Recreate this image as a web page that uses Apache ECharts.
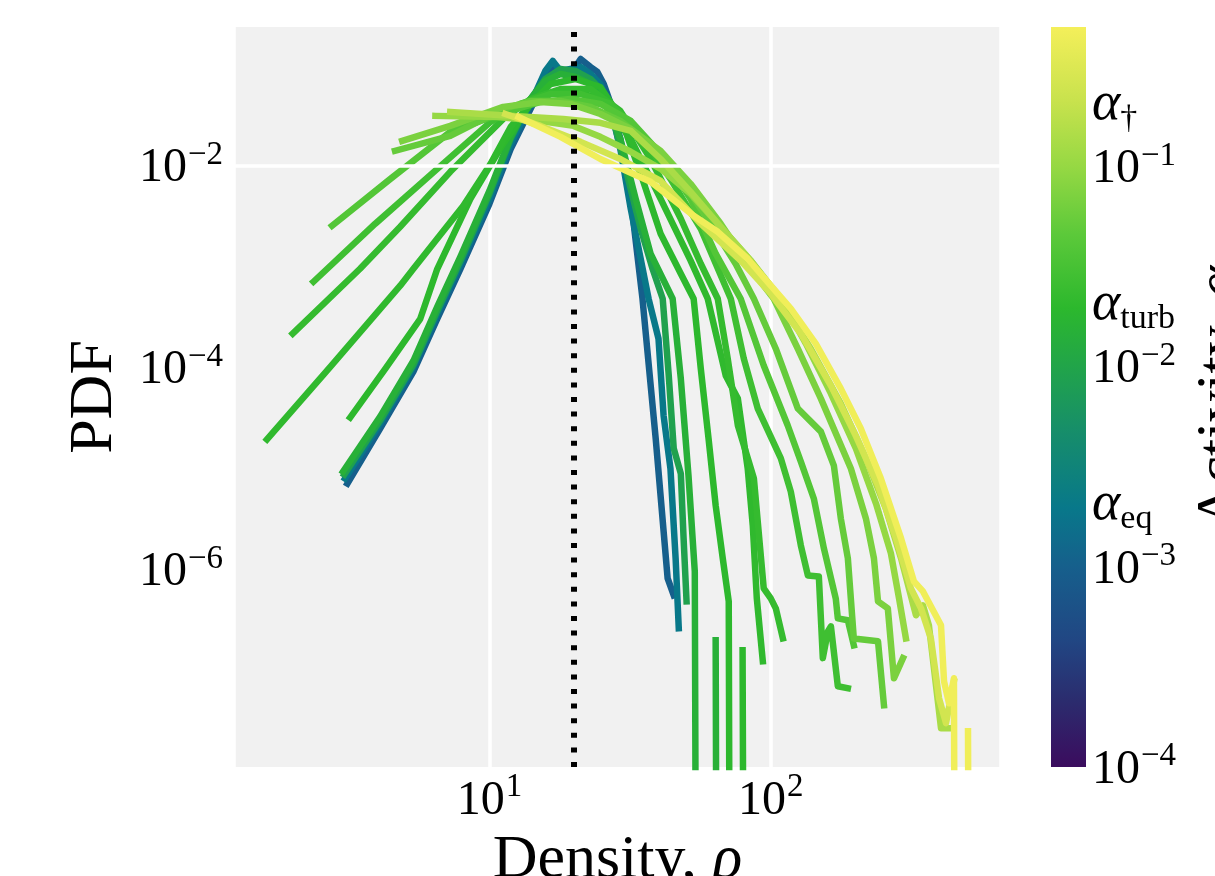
<!DOCTYPE html>
<html><head><meta charset="utf-8">
<script src="https://cdn.jsdelivr.net/npm/echarts@6/dist/echarts.min.js"></script>
<style>html,body{margin:0;padding:0;background:#fff}#chart{width:1215px;height:876px}</style>
</head><body><div id="chart"></div>
<script>
// ---------------- data ----------------
const densityRange = [1.237, 658];
const pdfRange = [1.1e-8, 0.238];
const alphaRange = [1e-4, 0.5];
const pdfGridValues = [1e-2, 1e-4, 1e-6];
const referenceDensity = 20;
const alphaMarks = [
  {label: 'eq', value: 0.002},
  {label: 'turb', value: 0.02},
  {label: '\u2020', value: 0.2}
];
const activities = [0.001, 0.002, 0.009, 0.015, 0.02, 0.021, 0.023, 0.0275, 0.039, 0.052, 0.07, 0.099, 0.136, 0.26, 0.46];

const curve01 = [[3.13,7.10e-6],[4.09,2.49e-5],[5.37,9.12e-5],[6.53,3.05e-4],[7.89,9.55e-4],[10.0,4.20e-3],[11.9,0.0147],[14.0,0.0366],[15.8,0.0726],[17.2,0.0955],[18.6,0.0814],[20.2,0.0955],[21.1,0.1146],[22.9,0.0955],[24.2,0.0853],[25.5,0.0648],[27.0,0.0411],[29.2,0.0185],[31.8,0.00471],[35.0,4.82e-4],[39.0,1.98e-5],[43.0,8.15e-7],[45.2,5.53e-7]];
const curve02 = [[3.07,7.96e-6],[4.09,2.79e-5],[5.37,1.02e-4],[6.53,3.43e-4],[7.89,1.07e-3],[10.0,4.71e-3],[11.9,0.0165],[14.0,0.0411],[15.8,0.0872],[16.8,0.1096],[17.9,0.0872],[19.4,0.0912],[21.1,0.0955],[22.9,0.0814],[24.8,0.0648],[27.0,0.0366],[29.2,0.0147],[31.8,0.00375],[36.8,4.82e-4],[39.9,1.94e-4],[41.6,3.35e-5],[44.0,1.0e-5],[45.9,1.29e-6],[47.1,2.61e-7]];
const curve03 = [[3.05,8.72e-6],[4.09,2.99e-5],[5.37,1.07e-4],[6.53,3.66e-4],[7.89,1.15e-3],[10.0,5.28e-3],[11.9,0.0185],[14.0,0.0460],[15.8,0.0726],[17.9,0.0912],[20.2,0.0872],[22.9,0.0726],[24.8,0.0578],[27.0,0.0366],[30.5,9.34e-3],[34.5,2.38e-3],[38.0,9.55e-4],[41.3,4.82e-4],[43.4,8.33e-5],[45.2,1.58e-5],[47.9,8.91e-6],[49.0,2.03e-6],[50.2,4.82e-7]];
const curve04 = [[3.02,9.33e-6],[4.09,3.27e-5],[5.37,1.17e-4],[6.53,4.02e-4],[7.89,1.26e-3],[10.0,5.65e-3],[11.9,0.0194],[14.0,0.0460],[15.8,0.0695],[17.9,0.0814],[20.2,0.0760],[22.9,0.0648],[25.9,0.0460],[29.2,0.0185],[33.1,4.71e-3],[37.4,1.35e-3],[44.8,4.82e-4],[47.9,7.78e-5],[51.0,8.52e-6],[53.7,9.55e-7],[57.3,1e-30],[61.0,'-'],[63.7,1.98e-7],[67.5,1e-30]];
const curve05 = [[3.20,3.20e-5],[4.27,9.77e-5],[5.68,3.05e-4],[6.53,9.55e-4],[8.56,4.71e-3],[10.9,0.0147],[14.0,0.0411],[16.5,0.0648],[20.2,0.0726],[24.8,0.0605],[29.2,0.0305],[34.5,8.34e-3],[40.6,2.12e-3],[47.9,8.53e-4],[53.2,4.82e-4],[56.4,9.77e-5],[60.1,1.98e-5],[63.7,4.31e-6],[67.5,1.29e-6],[70.9,4.82e-7],[75.0,1e-30],[77.0,'-'],[79.4,1.58e-7],[84.9,1e-30]];
const curve06 = [[1.62,1.94e-5],[2.72,1.02e-4],[4.82,6.49e-4],[5.37,9.55e-4],[8.08,4.02e-3],[10.1,0.0105],[11.9,0.0243],[14.0,0.0411],[16.5,0.0516],[20.2,0.0553],[24.8,0.0460],[31.8,0.0185],[40.6,4.71e-3],[51.9,1.15e-3],[59.7,4.82e-4],[69.2,8.33e-5],[76.4,4.93e-5],[82.8,1.0e-5],[86.3,2.73e-6],[89.2,5.16e-7],[93.7,1.23e-7]];
const curve07 = [[2.00,2.17e-4],[3.47,9.55e-4],[4.82,2.49e-3],[7.26,8.73e-3],[11.2,0.0292],[14.0,0.0460],[17.9,0.0578],[22.9,0.0578],[29.2,0.0351],[37.4,0.0117],[47.9,2.99e-3],[56.4,1.07e-3],[64.8,4.82e-4],[70.3,1.23e-4],[76.4,2.67e-5],[87.1,7.96e-6],[94.4,6.49e-7],[100,5.16e-7],[104.2,4.11e-7],[110.4,2.07e-7]];
const curve08 = [[2.37,7.10e-4],[3.93,2.67e-3],[6.53,9.34e-3],[10.1,0.0273],[12.9,0.0411],[16.5,0.0516],[21.1,0.0516],[27.0,0.0411],[34.5,0.0207],[44.0,7.43e-3],[56.4,2.38e-3],[72.1,4.82e-4],[80.2,1.23e-4],[89.9,3.93e-5],[108.6,1.26e-5],[117.8,5.91e-6],[127.9,1.73e-6],[135.5,8.72e-7],[148.2,8.52e-7],[153.1,1.32e-7],[159.6,2.43e-7],[163.6,2.73e-7],[173.1,6.95e-8],[187.9,6.64e-8]];
const curve09 = [[2.76,2.55e-3],[4.45,7.43e-3],[7.26,0.0217],[10.9,0.0327],[15.2,0.0430],[19.4,0.0460],[24.8,0.0411],[31.8,0.0279],[40.6,0.0132],[51.9,4.71e-3],[63.7,1.35e-3],[78.2,4.82e-4],[94.4,1.05e-4],[114.9,2.67e-5],[127.9,1.17e-5],[142.2,5.05e-6],[154.5,1.61e-6],[170.2,5.16e-7],[173.1,3.27e-7],[187.9,3.13e-7],[197.3,1.77e-7]];
const curve10 = [[4.62,0.0141],[7.26,0.0198],[11.2,0.0366],[14.0,0.0440],[17.9,0.0440],[22.9,0.0384],[29.2,0.0279],[37.4,0.0165],[47.9,7.43e-3],[61.1,2.67e-3],[75.0,1.07e-3],[87.1,4.82e-4],[104.2,1.54e-4],[124.8,3.93e-5],[150.7,2.32e-5],[167.6,1.07e-5],[177.4,3.20e-6],[187.9,1.29e-6],[197.3,2.07e-7],[240.5,1.94e-7],[252.5,4.50e-8]];
const curve11 = [[4.90,0.0177],[7.26,0.0249],[11.2,0.0384],[15.2,0.0430],[19.4,0.0411],[24.8,0.0327],[31.8,0.0232],[40.6,0.0141],[51.9,6.64e-3],[66.4,2.67e-3],[84.9,9.55e-4],[102.5,4.82e-4],[124.8,1.54e-4],[150.7,4.93e-5],[192.6,1.0e-5],[217.8,3.20e-6],[232.6,1.29e-6],[240.5,4.82e-7],[260.6,4.11e-7],[274.0,8.33e-8],[295.1,1.32e-7]];
const curve12 = [[6.43,0.0313],[10.7,0.0305],[15.2,0.0279],[19.9,0.0249],[24.8,0.0194],[31.8,0.0138],[40.6,9.34e-3],[51.9,5.28e-3],[66.4,2.49e-3],[84.9,1.15e-3],[108.6,4.82e-4],[133.3,1.73e-4],[163.6,5.53e-5],[200.6,1.58e-5],[236.6,4.50e-6],[267.3,1.44e-6],[285.7,5.16e-7],[302.2,2.07e-7]];
const curve13 = [[7.26,0.0343],[12.2,0.0313],[18.3,0.0292],[24.8,0.0267],[31.8,0.0222],[40.6,0.0117],[51.9,5.53e-3],[66.4,2.49e-3],[84.9,1.15e-3],[108.6,4.60e-4],[138.8,1.54e-4],[177.4,4.40e-5],[217.8,1.26e-5],[256.4,4.02e-6],[290.4,1.29e-6],[328.1,3.51e-7],[347.5,4.40e-7],[364.8,2.79e-7],[402.7,2.67e-8],[429.9,2.67e-8]];
const curve14 = [[11.4,0.0327],[15.2,0.0249],[21.1,0.0173],[29.2,0.0117],[40.6,7.10e-3],[56.4,2.67e-3],[78.2,1.15e-3],[100,5.41e-4],[127.9,2.17e-4],[163.6,6.64e-5],[200.6,2.12e-5],[240.5,6.79e-6],[278.6,2.03e-6],[314.8,6.49e-7],[342.0,4.11e-7],[370.7,2.07e-7],[396.3,5.28e-8],[419.6,2.99e-8],[447.7,7.78e-8]];
const curve15 = [[12.7,0.0305],[17.9,0.0194],[24.8,0.0117],[37.4,6.95e-3],[53.2,3.20e-3],[64.8,2.22e-3],[82.8,1.20e-3],[117.8,3.84e-4],[144.5,1.73e-4],[177.4,6.19e-5],[208.9,2.49e-5],[246.2,7.96e-6],[290.4,2.03e-6],[322.7,7.61e-7],[347.5,6.05e-7],[402.7,2.79e-7],[412.8,7.78e-8],[429.9,4.71e-8],[447.7,8.33e-8],[475,1e-30],[490,'-'],[502.3,2.49e-8],[537,1e-30]];

const curves = [curve01, curve02, curve03, curve04, curve05, curve06, curve07, curve08, curve09, curve10, curve11, curve12, curve13, curve14, curve15];

// ---------------- style ----------------
const FONT = '"Liberation Serif", "DejaVu Serif", serif';
const cmapStops = [[0,'#3b0c5e'],[0.09,'#2b2c6e'],[0.17,'#214683'],[0.27,'#165f8c'],[0.35,'#08788a'],[0.45,'#168d6b'],[0.54,'#21a44a'],[0.62,'#2cb82d'],[0.72,'#5cc93a'],[0.81,'#95d843'],[0.9,'#c8e24d'],[1,'#f4ef5a']];
function hexToRgb(h){ return [parseInt(h.slice(1,3),16),parseInt(h.slice(3,5),16),parseInt(h.slice(5,7),16)]; }
function cmap(f){
  f = Math.max(0, Math.min(1, f));
  for (let i = 1; i < cmapStops.length; i++) {
    if (f <= cmapStops[i][0]) {
      const f0 = cmapStops[i-1][0], f1 = cmapStops[i][0];
      const a = hexToRgb(cmapStops[i-1][1]), b = hexToRgb(cmapStops[i][1]);
      const t = (f - f0) / (f1 - f0);
      return 'rgb(' + a.map((v,k) => Math.round(v + (b[k]-v)*t)).join(',') + ')';
    }
  }
  return cmapStops[cmapStops.length-1][1];
}
const logA0 = Math.log10(alphaRange[0]), logA1 = Math.log10(alphaRange[1]);
const frac = a => (Math.log10(a) - logA0) / (logA1 - logA0);

function supText(n){ return String(n).replace('-', '\u2212'); }
function powLabel(v, evenOnly){
  const e = Math.log10(v), r = Math.round(e);
  if (Math.abs(e - r) > 1e-6) return '';
  if (evenOnly && r % 2 !== 0) return '';
  return '{b|10}{s|' + supText(r) + '}';
}
const tickRich = {
  b: {fontFamily: FONT, fontSize: 48, color: '#000', verticalAlign: 'bottom'},
  s: {fontFamily: FONT, fontSize: 33, color: '#000', verticalAlign: 'bottom', padding: [0,0,21,1]}
};
const nameStyle = {fontFamily: FONT, fontSize: 62, color: '#000',
  rich: {i: {fontFamily: FONT, fontSize: 62, fontStyle: 'italic', color: '#000'}}};

const series = [];
series.push({
  type: 'line', data: [], xAxisIndex: 0, yAxisIndex: 0, silent: true,
  markLine: {silent: true, symbol: ['none','none'], label: {show: false}, animation: false,
    lineStyle: {color: '#ffffff', width: 3.5, type: 'solid'},
    emphasis: {disabled: true},
    data: pdfGridValues.map(v => ({yAxis: v}))}
});
curves.forEach((c, i) => {
  series.push({
    type: 'line', data: c, xAxisIndex: 0, yAxisIndex: 0,
    showSymbol: false, symbol: 'none', clip: true, silent: true,
    lineStyle: {width: 6.5, color: cmap(frac(activities[i])), cap: 'square', join: 'round'},
    emphasis: {disabled: true}
  });
});
series.push({
  type: 'line', data: [], xAxisIndex: 0, yAxisIndex: 0, silent: true,
  markLine: {silent: true, symbol: ['none','none'], label: {show: false}, animation: false,
    lineStyle: {color: '#000', width: 6, type: [5, 9.6]},
    emphasis: {disabled: true},
    data: [{xAxis: referenceDensity}]}
});
series.push({type: 'line', data: [], xAxisIndex: 1, yAxisIndex: 1, silent: true});

const chart = echarts.init(document.getElementById('chart'), null, {renderer: 'canvas'});
chart.setOption({
  animation: false,
  backgroundColor: '#ffffff',
  grid: [
    {left: 234, top: 27, width: 767, height: 740, show: true, backgroundColor: '#f1f1f1', borderWidth: 0, containLabel: false, outerBoundsMode: 'none'},
    {left: 1051, top: 27, width: 35, height: 740, show: true, borderWidth: 0, containLabel: false, outerBoundsMode: 'none',
      backgroundColor: {type: 'linear', x: 0, y: 1, x2: 0, y2: 0,
        colorStops: cmapStops.map(s => ({offset: s[0], color: s[1]}))}}
  ],
  xAxis: [
    {type: 'log', logBase: 10, gridIndex: 0, min: densityRange[0], max: densityRange[1],
      axisLine: {show: false}, axisTick: {show: false},
      splitLine: {show: true, lineStyle: {color: '#ffffff', width: 3.5}},
      axisLabel: {formatter: v => powLabel(v, false), rich: tickRich, margin: 4, showMinLabel: false, showMaxLabel: false},
      name: 'Density, {i|\u03c1}', nameLocation: 'middle', nameGap: 40, nameTextStyle: nameStyle},
    {type: 'value', gridIndex: 1, min: 0, max: 1, show: false}
  ],
  yAxis: [
    {type: 'log', logBase: 10, gridIndex: 0, min: pdfRange[0], max: pdfRange[1],
      axisLine: {show: false}, axisTick: {show: false}, splitLine: {show: false},
      axisLabel: {formatter: v => powLabel(v, true), rich: tickRich, margin: 11, showMinLabel: false, showMaxLabel: false},
      name: 'PDF', nameLocation: 'middle', nameGap: 108, nameRotate: 90, nameTextStyle: nameStyle},
    {type: 'log', logBase: 10, gridIndex: 1, position: 'right', min: alphaRange[0], max: alphaRange[1],
      axisLine: {show: false}, axisTick: {show: false}, splitLine: {show: false},
      axisLabel: {formatter: v => powLabel(v, false), rich: tickRich, margin: 6, showMinLabel: true, showMaxLabel: false},
      name: 'Activity, {i|\u03b1}', nameLocation: 'middle', nameGap: 105, nameRotate: 90, nameTextStyle: nameStyle}
  ],
  series: series
});

const alphaRich = {
  a: {fontFamily: FONT, fontSize: 54, fontStyle: 'italic', fill: '#000', verticalAlign: 'bottom', padding: [0,0,4,0]},
  s: {fontFamily: FONT, fontSize: 34, fill: '#000', verticalAlign: 'bottom'}
};
const gfx = alphaMarks.map(m => ({
  type: 'text', silent: true,
  x: 1092, y: chart.convertToPixel({yAxisIndex: 1}, m.value),
  style: {text: '{a|\u03b1}{s|' + m.label + '}', rich: alphaRich, fontFamily: FONT, fill: '#000', verticalAlign: 'middle', align: 'left'}
}));
chart.setOption({graphic: gfx});
</script>
</body></html>
